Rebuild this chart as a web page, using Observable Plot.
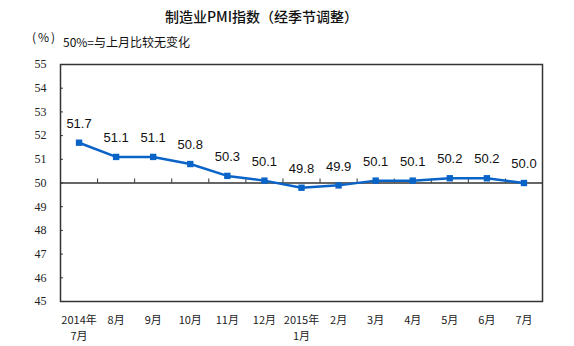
<!DOCTYPE html>
<html><head><meta charset="utf-8">
<script src="https://cdn.jsdelivr.net/npm/d3@7"></script>
<script src="https://cdn.jsdelivr.net/npm/@observablehq/plot@0.6"></script>
<style>
body{margin:0;background:#fff;}
#wrap{position:relative;width:574px;height:346px;overflow:hidden;}
#chart{position:absolute;left:0;top:0;}
#title{position:absolute;left:165px;top:6px;font:500 14px "Noto Sans CJK SC";line-height:20px;color:#111;white-space:nowrap;}
#unit{position:absolute;left:32px;top:29px;font:12px "Noto Sans CJK SC";line-height:16px;color:#111;white-space:nowrap;letter-spacing:2px;}
#note{position:absolute;left:63px;top:34px;font:12px "Noto Sans CJK SC";line-height:16px;color:#111;white-space:nowrap;}
</style></head>
<body><div id="wrap">
<div id="chart"></div>
<div id="title">制造业PMI指数（经季节调整）</div>
<div id="unit">(%)</div>
<div id="note">50%=与上月比较无变化</div>
</div>
<script>
const months = ["2014年\n7月","8月","9月","10月","11月","12月","2015年\n1月","2月","3月","4月","5月","6月","7月"];
const values = [51.7, 51.1, 51.1, 50.8, 50.3, 50.1, 49.8, 49.9, 50.1, 50.1, 50.2, 50.2, 50.0];
const yTicks = [45, 46, 47, 48, 49, 50, 51, 52, 53, 54, 55];
const baseline = [50];

const bounds = months.slice(1).map((_, i) => i + 0.5);
const blue = "#0a64c8";

const plot = Plot.plot({
  width: 574,
  height: 346,
  marginLeft: 60,
  marginRight: 32,
  marginTop: 64,
  marginBottom: 45,
  style: {background: "#fff", color: "#222"},
  x: {type: "linear", domain: [-0.5, months.length - 0.5], axis: null},
  y: {domain: [45, 55]},
  marks: [
    Plot.frame({stroke: "#333", strokeWidth: 1.5}),
    Plot.ruleY(baseline, {stroke: "#333", strokeWidth: 1.5}),
    Plot.ruleX(bounds, {x: d => d, y1: () => 50, y2: () => 50.17, stroke: "#333", strokeWidth: 1}),
    Plot.ruleY(yTicks, {y: d => d, x1: () => -0.5, x2: () => -0.42, stroke: "#333", strokeWidth: 1}),
    Plot.axisY({ticks: yTicks, tickSize: 0, tickPadding: 14, label: null, fontSize: 12, fontFamily: "Liberation Serif"}),
    Plot.text(months, {x: (d, i) => i, text: d => d, frameAnchor: "bottom", lineAnchor: "top", dy: 11, lineHeight: 1.46, fontSize: 11, fontFamily: "Noto Sans CJK SC", fill: "#222"}),
    Plot.line(values, {x: (d, i) => i, y: d => d, stroke: blue, strokeWidth: 2.5}),
    Plot.dot(values, {x: (d, i) => i, y: d => d, symbol: "square", r: 3.6, fill: blue}),
    Plot.text(values, {x: (d, i) => i, y: d => d, text: d => d.toFixed(1), dy: -19, fontSize: 13, fontFamily: "Liberation Sans", fill: "#111"})
  ]
});
document.getElementById("chart").appendChild(plot);
</script>
</body></html>
